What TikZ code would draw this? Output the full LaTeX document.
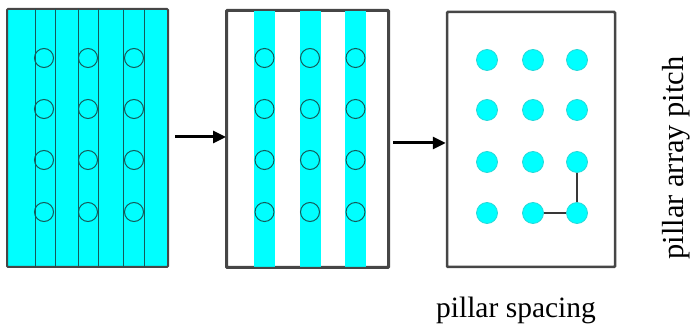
\documentclass[tikz,border=0pt]{standalone}
\usepackage{fontspec}
\setmainfont{Liberation Serif}
\usetikzlibrary{arrows.meta}
\definecolor{pcyan}{RGB}{0,255,255}
\definecolor{boxgray}{RGB}{70,70,70}
\definecolor{ringcol}{RGB}{20,90,90}
\tikzset{
  panel/.style={draw=boxgray, line width=2pt, rounded corners=1pt, minimum width=#1, inner sep=0pt},
  ring/.style={circle, draw=ringcol, line width=1pt, minimum size=19pt, inner sep=0pt},
  dot/.style={circle, fill=pcyan, draw=pcyan!70!gray, line width=0.8pt, minimum size=21pt, inner sep=0pt},
  flow/.style={line width=3pt, -{Triangle[length=13pt,width=12pt]}},
  guide/.style={draw=ringcol, line width=1pt},
  pitch/.style={draw=boxgray!80!black, line width=2pt},
  lbl/.style={inner sep=0pt, font=\fontsize{29.5}{30}\selectfont}
}
\begin{document}
\begin{tikzpicture}[x=1pt,y=-1pt]
\useasboundingbox (0,0) rectangle (691,328);
% panel 1
\node[panel=161pt, minimum height=258pt, fill=pcyan] (p1) at (87.5,138) {};
\foreach \x in {35,55,78,98,123,144}{
  \draw[guide] (\x,9) -- (\x,267);
}
% panel 2
\node[panel=161pt, minimum height=256pt] (p2) at (307.5,139) {};
\foreach \x in {264.5,310,355.5}{
  \fill[pcyan] (\x-10.5,10) rectangle (\x+10.5,268);
}
\draw[draw=boxgray, line width=2pt, rounded corners=1pt] (p2.north west) rectangle (p2.south east);
% panel 3
\node[panel=168pt, minimum height=255pt, line width=2.5pt] (p3) at (531,139.5) {};
% rings and dots
\foreach \r/\y in {1/58,2/109,3/160,4/212}{
  \foreach \c/\xa/\xb in {1/44/264.5,2/88/310,3/134/355.5}{
    \node[ring] (a-\r-\c) at (\xa,\y) {};
    \node[ring] (b-\r-\c) at (\xb,\y) {};
  }
}
\foreach \r/\y in {1/60,2/110,3/162,4/213}{
  \foreach \c/\x in {1/487,2/533,3/577}{
    \node[dot] (d-\r-\c) at (\x,\y) {};
  }
}
\draw[pitch] (d-4-2.east) -- (d-4-3.west);
\draw[pitch] (d-3-3.south) -- (d-4-3.north);
% arrows
\coordinate (s1) at (175,137);
\coordinate (s2) at (393,143);
\draw[flow] (s1) -- (s1 -| p2.west);
\draw[flow] (s2) -- (s2 -| p3.west);
% labels
\node[lbl] (ls) at (516,310) {pillar spacing};
\node[lbl, rotate=90, font=\fontsize{30.5}{31}\selectfont] (lp) at (676.5,158) {pillar array pitch};
\end{tikzpicture}
\end{document}
